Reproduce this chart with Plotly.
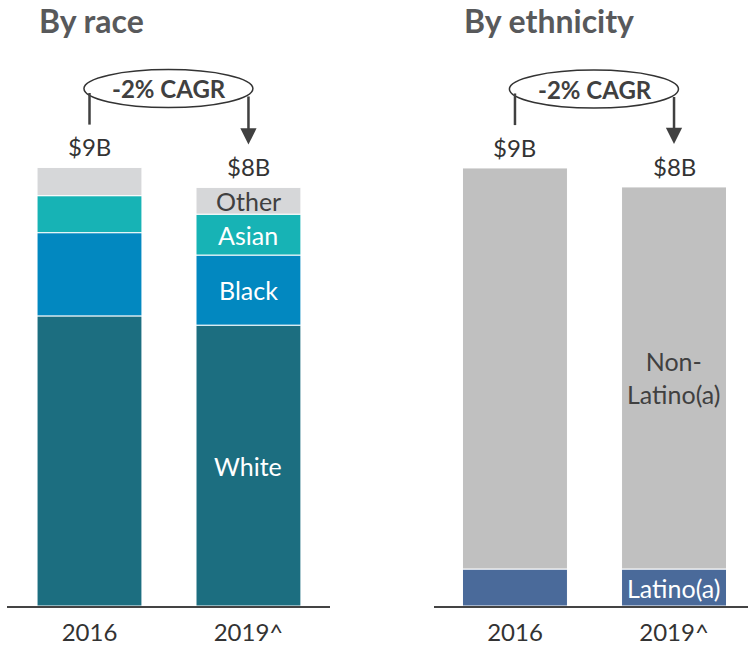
import plotly.graph_objects as go

years = ["2016", "2019^"]
race_names = ["White", "Black", "Asian", "Other"]
race_values = {
    "White": [5.96, 5.77],
    "Black": [1.71, 1.44],
    "Asian": [0.76, 0.84],
    "Other": [0.58, 0.55],
}
eth_names = ["Latino(a)", "Non-Latino(a)"]
eth_values = {
    "Latino(a)": [0.76, 0.76],
    "Non-Latino(a)": [8.24, 7.85],
}
total_labels = ["$9B", "$8B"]
cagr_label = "-2% CAGR"

race_colors = {"White": "#1c6e80", "Black": "#0288c0", "Asian": "#17b3b5", "Other": "#d6d7d9"}
race_text_colors = {"White": "white", "Black": "white", "Asian": "white", "Other": "#404040"}
eth_colors = {"Latino(a)": "#4a6a9a", "Non-Latino(a)": "#c0c0c0"}
eth_text_colors = {"Latino(a)": "white", "Non-Latino(a)": "#404040"}
eth_display = {"Latino(a)": "Latino(a)", "Non-Latino(a)": "Non-<br>Latino(a)"}

FONT = "Lato, 'Open Sans', sans-serif"
W, H = 748, 646
BASE = 606
YMAX = 12.45
xpos = [0, 1]

fig = go.Figure()
annotations = []
shapes = []

def add_panel(names, values, colors, text_colors, display, xa, ya, label_2016):
    cum = [0.0, 0.0]
    for n in names:
        fig.add_trace(go.Bar(
            x=xpos, y=values[n], base=cum[:], name=n,
            marker=dict(color=colors[n], line=dict(color="white", width=1)),
            width=0.66, xaxis=xa, yaxis=ya, showlegend=False, hoverinfo="skip",
        ))
        for i in range(2):
            if i == 1 or label_2016:
                annotations.append(dict(
                    x=xpos[i], y=cum[i] + values[n][i] / 2, xref=xa, yref=ya,
                    text=display[n], showarrow=False,
                    font=dict(size=25, color=text_colors[n], family=FONT),
                ))
        cum = [cum[i] + values[n][i] for i in range(2)]
    # totals
    for i in range(2):
        annotations.append(dict(
            x=xpos[i], y=cum[i], xref=xa, yref=ya, yanchor="bottom", yshift=4,
            text=total_labels[i], showarrow=False,
            font=dict(size=24, color="#333333", family=FONT),
        ))
    # CAGR ellipse and connectors
    y_top = max(cum)
    ey0, ey1 = y_top + 1.23, y_top + 2.01
    shapes.append(dict(type="circle", xref=xa, yref=ya, x0=-0.035, x1=1.028,
                       y0=ey0, y1=ey1, line=dict(color="#333333", width=1.5),
                       fillcolor="white", layer="above"))
    annotations.append(dict(x=0.5, y=(ey0 + ey1) / 2, xref=xa, yref=ya,
                            text="<b>" + cagr_label + "</b>", showarrow=False,
                            font=dict(size=24, color="#404040", family=FONT)))
    shapes.append(dict(type="line", xref=xa, yref=ya, x0=0, x1=0,
                       y0=ey0 + 0.3, y1=cum[0] + 0.88, line=dict(color="#404040", width=2.5)))
    annotations.append(dict(x=1, y=cum[1] + 0.88, xref=xa, yref=ya,
                            ax=1, ay=ey0 + 0.26, axref=xa, ayref=ya,
                            showarrow=True, arrowhead=2, arrowsize=1.3, arrowwidth=2.5,
                            arrowcolor="#404040", text=""))

add_panel(race_names, race_values, race_colors, race_text_colors,
          {n: n for n in race_names}, "x", "y", False)
add_panel(eth_names, eth_values, eth_colors, eth_text_colors, eth_display, "x2", "y2", False)

annotations.append(dict(x=37 / W, y=1 - 22 / H, xref="paper", yref="paper", xanchor="left",
                        yanchor="middle", text="<b>By race</b>", showarrow=False,
                        font=dict(size=32, color="#58595b", family=FONT)))
annotations.append(dict(x=462 / W, y=1 - 22 / H, xref="paper", yref="paper", xanchor="left",
                        yanchor="middle", text="<b>By ethnicity</b>", showarrow=False,
                        font=dict(size=32, color="#58595b", family=FONT)))

axis_common = dict(tickvals=xpos, ticktext=years, showline=True, linecolor="#444444",
                   linewidth=2, showgrid=False, zeroline=False, ticks="",
                   ticklabelstandoff=4,
                   tickfont=dict(size=24, color="#333333", family=FONT), fixedrange=True)
fig.update_layout(
    width=W, height=H,
    margin=dict(l=0, r=0, t=0, b=H - BASE),
    paper_bgcolor="white", plot_bgcolor="white",
    barmode="overlay",
    xaxis=dict(domain=[7 / W, 330 / W], range=[-0.519, 1.513], **axis_common),
    xaxis2=dict(domain=[434 / W, 1.0], range=[-0.509, 1.465], anchor="y2", **axis_common),
    yaxis=dict(range=[0, YMAX], visible=False, fixedrange=True),
    yaxis2=dict(range=[0, YMAX], visible=False, anchor="x2", fixedrange=True),
    annotations=annotations, shapes=shapes,
)
fig.write_html("out.html", config={"displayModeBar": False},
               post_script="document.body.style.margin='0';")
